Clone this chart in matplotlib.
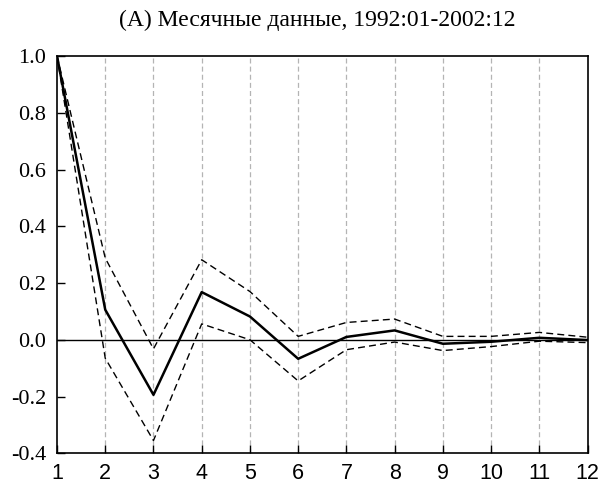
import matplotlib
matplotlib.use("Agg")
import matplotlib.pyplot as plt

lags = [1, 2, 3, 4, 5, 6, 7, 8, 9, 10, 11, 12]
acf = [1.0, 0.106, -0.194, 0.168, 0.082, -0.067, 0.010, 0.033, -0.014, -0.007, 0.007, -0.001]
upper = [1.0, 0.288, -0.032, 0.282, 0.170, 0.012, 0.061, 0.073, 0.012, 0.012, 0.026, 0.009]
lower = [1.0, -0.065, -0.355, 0.056, 0.000, -0.145, -0.035, -0.008, -0.038, -0.024, -0.005, -0.010]
yticks = [-0.4, -0.2, 0.0, 0.2, 0.4, 0.6, 0.8, 1.0]
ytick_labels = ["-0.4", "-0.2", "0.0", "0.2", "0.4", "0.6", "0.8", "1.0"]
title = "(A) Месячные данные, 1992:01-2002:12"

fig = plt.figure(figsize=(6.02, 4.86), dpi=100)
ax = fig.add_axes([0.0947, 0.0673, 0.8813, 0.8175])

for x in lags[1:-1]:
    ax.axvline(x, color="#b4b4b4", lw=0.9, ls=(0, (4, 2.5)), zorder=1)
ax.axhline(0, color="black", lw=1.0, zorder=2)

ax.plot(lags, upper, color="black", lw=1.0, ls=(0, (5, 3)), zorder=3)
ax.plot(lags, lower, color="black", lw=1.0, ls=(0, (5, 3)), zorder=3)
ax.plot(lags, acf, color="black", lw=1.8, zorder=4)

ax.set_xlim(1, 12)
ax.set_ylim(-0.4, 1.0)
ax.set_xticks(lags)
ax.set_xticklabels([str(v) for v in lags], fontfamily="Liberation Sans", fontsize=15.5)
ax.set_yticks(yticks)
ax.set_yticklabels(ytick_labels, fontfamily="Liberation Serif", fontsize=16)
ax.tick_params(axis="both", direction="in", length=6, width=1.0, top=False, right=False)
ax.tick_params(axis="y", pad=8)
ax.tick_params(axis="x", pad=7)
for s in ax.spines.values():
    s.set_linewidth(1.2)

fig.text(0.527, 0.958, title, ha="center", va="center",
         fontfamily="Liberation Serif", fontsize=17)

fig.savefig("out.png", dpi=100)
